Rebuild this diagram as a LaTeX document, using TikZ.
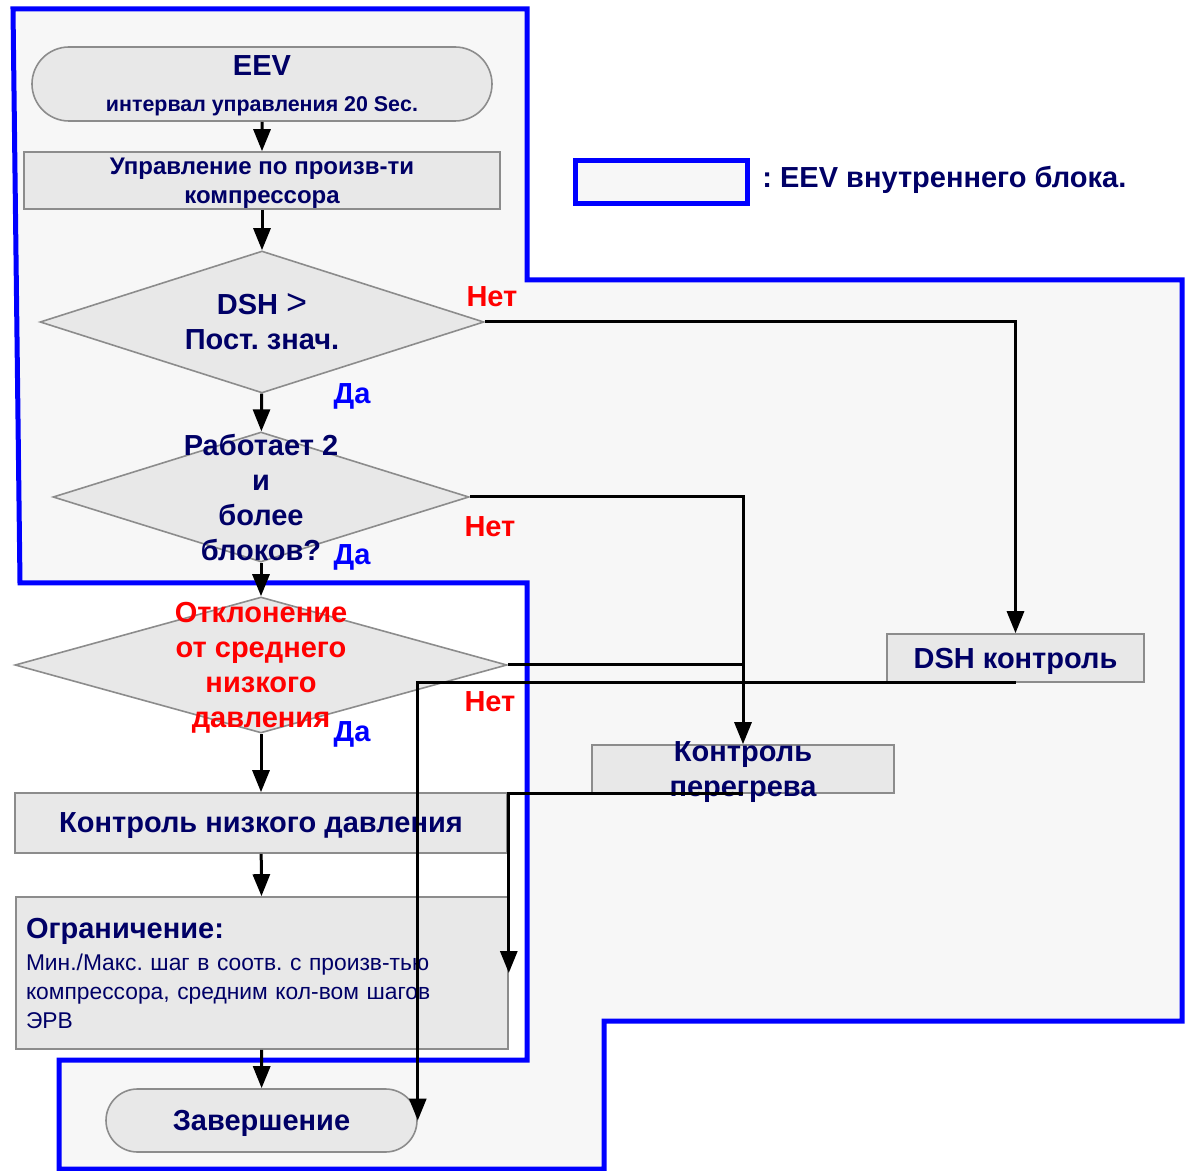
\documentclass[tikz,border=0pt]{standalone}
\usepackage{fontspec}
\setmainfont{Liberation Sans}
\frenchspacing
\usetikzlibrary{arrows.meta,positioning,shapes.geometric,shapes.misc}
\definecolor{navy}{HTML}{000066}
\definecolor{regfill}{HTML}{F7F7F7}
\definecolor{boxfill}{HTML}{E8E8E8}
\tikzset{
  region/.style={draw=blue, line width=2.5pt, fill=regfill},
  box/.style={draw=black!45, fill=boxfill, line width=0.8pt, inner sep=0pt, text depth=0pt, text=navy, align=center, font=\bfseries\fontsize{14.5}{17.5}\selectfont},
  dia/.style={box, diamond},
  term/.style={box, rounded rectangle},
  dtxt/.style={text=navy, align=center, inner sep=0pt, text depth=0pt, font=\bfseries\fontsize{14.5}{17.5}\selectfont},
  yes/.style={text=blue, inner sep=0pt, font=\bfseries\fontsize{14.5}{15}\selectfont},
  no/.style={text=red, inner sep=0pt, font=\bfseries\fontsize{14.5}{15}\selectfont},
  legbox/.style={draw=blue, line width=2.5pt, fill=regfill, minimum width=86pt, minimum height=21.5pt, inner sep=0pt},
  arr/.style={-{Triangle[length=11pt,width=8.5pt]}, line width=1.5pt},
  conn/.style={line width=1.5pt},
}
\begin{document}
\begin{tikzpicture}[x=0.5pt,y=-0.5pt]
\useasboundingbox (0,0) rectangle (1185,1171);
% indoor unit EEV area
\draw[region] (13,9) -- (527,9) -- (527,280) -- (1182,280) -- (1182,1021) -- (604,1021) -- (604,1169) -- (59,1169) -- (59,1060) -- (527,1060) -- (527,583) -- (20,583) -- cycle;
% legend
\node[legbox] (leg) at (661.5,182) {};
\node[dtxt, text depth=, right=6pt of leg, yshift=1pt] (legt) {: EEV внутреннего блока.};
% main column
\node[term, minimum width=230pt, minimum height=37pt] (eev) at (262,84) {{\fontsize{14.5}{16}\selectfont EEV}\\[0.5pt]{\fontsize{10.7}{12}\selectfont интервал управления 20 Sec.}};
\node[box, minimum width=238pt, minimum height=28.5pt, font=\bfseries\fontsize{12}{14.5}\selectfont] (upr) at (262,180.5) {Управление по произв-ти\\компрессора};
\node[dia, minimum width=222pt, minimum height=71pt, label={[dtxt]center:{DSH {\mdseries\fontsize{18}{17.5}\selectfont >}\\Пост. знач.}}] (d1) at (262,322) {};
\node[dia, minimum width=208pt, minimum height=65pt, label={[dtxt]center:{Работает 2\\и\\более\\блоков?}}] (d2) at (261,497) {};
\node[dia, minimum width=246pt, minimum height=68pt, label={[dtxt, text=red]center:{Отклонение\\от среднего\\низкого\\давления}}] (d3) at (261,665) {};
\node[box, minimum width=246pt, minimum height=30pt] (lp) at (261,823) {Контроль низкого давления};
\node[box, minimum width=246pt, minimum height=76pt, text width=236pt, text depth=, align=left, font=\mdseries\fontsize{11.4}{14.5}\selectfont] (lim) at (262,973) {{\bfseries\fontsize{14.5}{14.5}\selectfont Ограничение:}\\[1.5pt]Мин./Макс. шаг в соотв. с произв-тью\\компрессора, средним кол-вом шагов\\ЭРВ};
\node[term, minimum width=155.5pt, minimum height=31.5pt] (fin) at (261.5,1120.5) {Завершение};
% right side boxes
\node[box, minimum width=128.5pt, minimum height=24pt] (dsh) at (1015.5,658) {DSH контроль};
\node[box, minimum width=151pt, minimum height=24pt, label={[dtxt]center:{Контроль\\перегрева}}] (per) at (743,769) {};
% yes / no
\node[no] (no1) at (492,297) {Нет};
\node[yes] (yes1) at (352,396) {Да};
\node[no] (no2) at (490,527) {Нет};
\node[yes] (yes2) at (352,557) {Да};
\node[no] (no3) at (490,702) {Нет};
\node[yes] (yes3) at (352,734) {Да};
% flow
\draw[arr] (eev) -- (upr);
\draw[arr] (upr) -- (d1);
\draw[arr] (d1) -- (d2);
\draw[arr] (d2) -- (d3);
\draw[arr] (d3) -- (lp);
\draw[arr] (lp) -- (lim);
\draw[arr] (lim) -- (fin);
\draw[arr] (d1.east) -| (dsh.north);
\draw[arr] (d2.east) -| (per.north);
\draw[conn] (d3.east) -- (d3.east -| per.north);
\draw[arr] (dsh.south) -| (fin.east);
\draw[arr] (per.south) -| (lim.east);
\end{tikzpicture}
\end{document}
